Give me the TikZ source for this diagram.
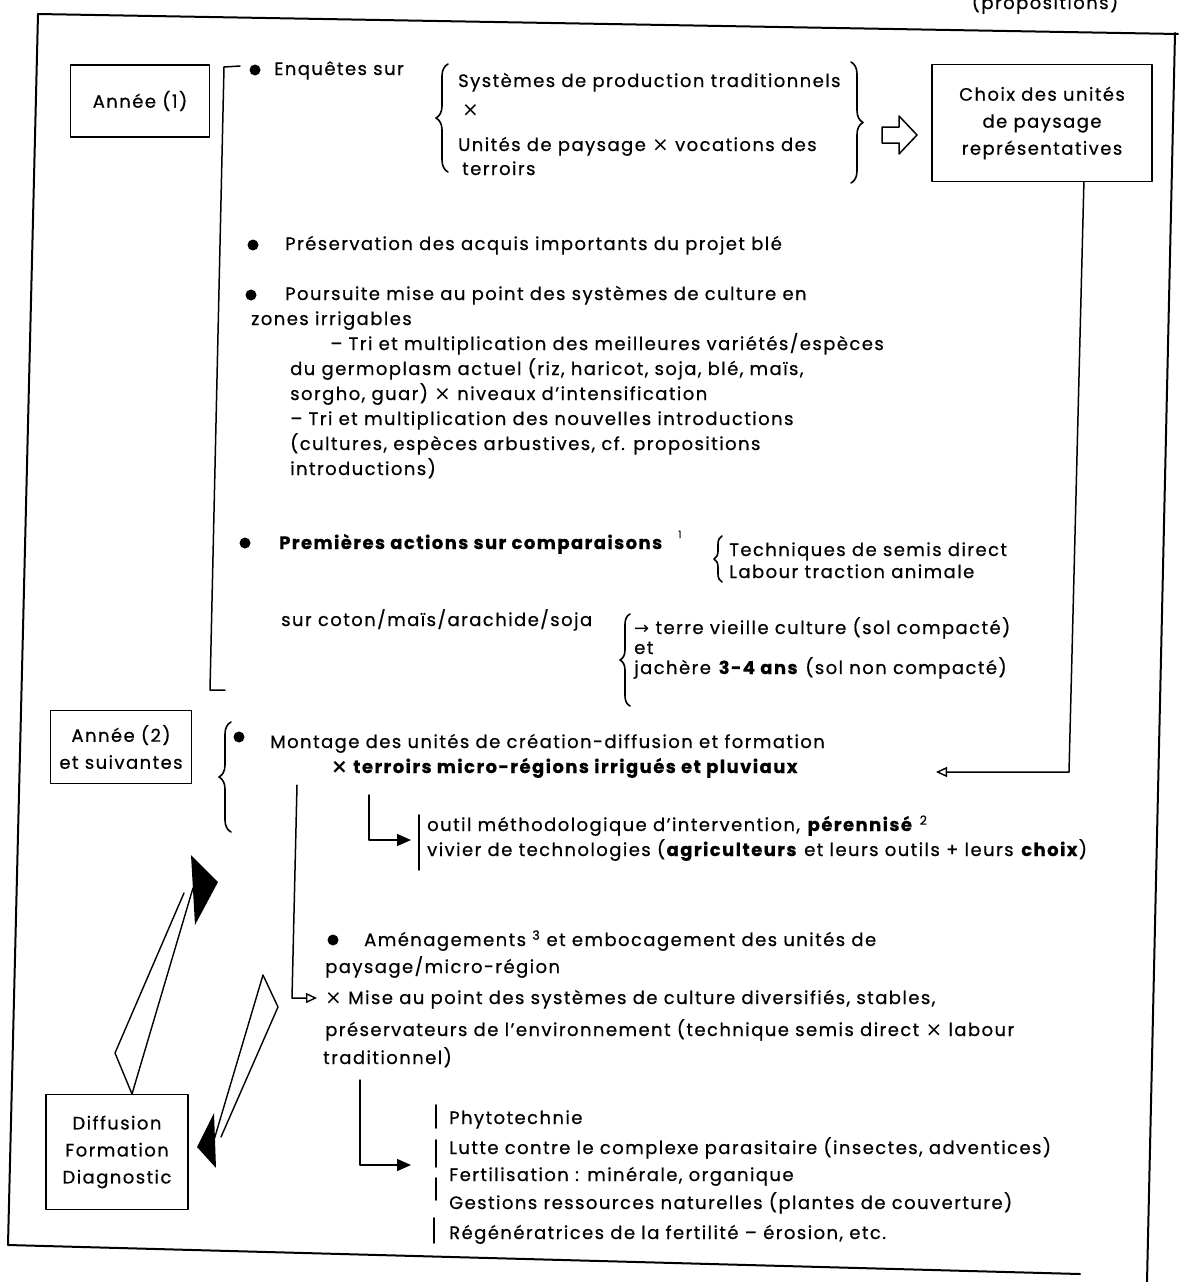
\documentclass[tikz,border=0pt]{standalone}
\usepackage{fontspec}
\setmainfont{Poppins}[LetterSpace=8,FakeBold=0.6]
\newfontfamily\arrowfont{DejaVu Sans}
\newcommand{\fois}{{\arrowfont\fontsize{20}{22}\selectfont ×}}
\usetikzlibrary{arrows.meta,decorations.pathreplacing}
\tikzset{
  frame/.style={line width=2pt},
  lin/.style={line width=1.5pt},
  box/.style={draw, line width=1.8pt, align=center, inner sep=0pt, font=\fontsize{18}{27}\selectfont},
  txt/.style={anchor=base west, inner sep=0pt, font=\fontsize{18}{22}\selectfont},
  btxt/.style={txt, font=\fontsize{18}{22}\selectfont\bfseries},
  dot/.style={circle, fill, inner sep=0pt, minimum size=11pt},
  brc/.style={decorate, decoration={brace, amplitude=#1}, line width=1.6pt},
  brc/.default=12pt,
  vbar/.style={line width=1.6pt},
  kite/.style={line width=1.4pt},
  pointe/.style={-{Triangle[length=14pt,width=12pt]}},
  pointeo/.style={-{Triangle[open,length=11pt,width=10pt,line width=1.4pt]}},
}
\begin{document}
\begin{tikzpicture}[x=1pt,y=-1pt,line cap=round,line join=round]
\useasboundingbox (0,0) rectangle (1178,1282);
\draw[frame] (38,14) -- (1178,34);
\draw[frame] (38,14) -- (8,1245) -- (1080,1274);
\draw[frame] (1175,33) -- (1147,1282);
\node[font=\fontsize{18}{22}\selectfont] (prop) at (1045,3) {(propositions)};
% annee 1
\node[box, minimum width=139pt, minimum height=72pt] (an1) at (140,101) {Année (1)};
\draw[lin] (240,66) -- (224,67) -- (210,690) -- (225,690);
\node[dot] (b1) at (255,70) {};
\node[txt] (enq) at (274,75) {Enquêtes sur};
\draw[brc=12pt] (448,172) -- (448,64);
\node[txt] (sys) at (458,87) {Systèmes de production traditionnels};
\node[txt] (x1) at (462,116) {\fois};
\node[txt] (unit) at (458,151) {Unités de paysage \fois{} vocations des};
\node[txt] (terr) at (462,175) {terroirs};
\draw[brc=12pt] (851,62) -- (851,183);
\draw[lin] (882,127) -- (899,127) -- (899,116) -- (917,135) -- (899,154) -- (899,143) -- (882,143) -- cycle;
\node[box, minimum width=220pt, minimum height=117pt] (choix) at (1042,123) {Choix des unités\\de paysage\\représentatives};
\path (choix.south east) ++(-69,0) coordinate (cs);
\coordinate (coin) at (1069,772);
\coordinate (retour) at (936,772);
\draw[lin, pointeo] (cs) -- (coin) -- (retour);
\node[dot] (b2) at (253,245) {};
\node[txt] (pres) at (285,250) {Préservation des acquis importants du projet blé};
\node[dot] (b3) at (251,295) {};
\node[txt] (pours) at (285,300) {Poursuite mise au point des systèmes de culture en};
\node[txt] (zones) at (251,325) {zones irrigables};
\node[txt] (tri1) at (330,350) {– Tri et multiplication des meilleures variétés/espèces};
\node[txt] (germo) at (290,375) {du germoplasm actuel (riz, haricot, soja, blé, maïs,};
\node[txt] (sorgho) at (290,400) {sorgho, guar) \fois{} niveaux d'intensification};
\node[txt] (tri2) at (290,425) {– Tri et multiplication des nouvelles introductions};
\node[txt] (cult) at (290,450) {(cultures, espèces arbustives, cf. propositions};
\node[txt] (intro) at (290,475) {introductions)};
\node[dot] (b4) at (245,543) {};
\node[btxt] (prem) at (279,549) {Premières actions sur comparaisons};
\node[txt, font=\fontsize{10}{12}\selectfont] (n1) at (678,538) {1};
\draw[brc=8pt] (722,582) -- (722,536);
\node[txt] (tech) at (729,556) {Techniques de semis direct};
\node[txt] (lab) at (729,578) {Labour traction animale};
\node[txt] (coton) at (281,626) {sur coton/maïs/arachide/soja};
\draw[brc=10pt] (630,706) -- (630,614);
\node[txt] (vieil) at (634,634) {{\arrowfont →} terre vieille culture (sol compacté)};
\node[txt] (et) at (634,654) {et};
\node[txt] (jach) at (634,674) {jachère \textbf{3-4 ans} (sol non compacté)};
% annee 2
\node[box, minimum width=141pt, minimum height=73pt] (an2) at (121,747) {Année (2)\\et suivantes};
\draw[brc=12pt] (231,832) -- (231,722);
\node[dot] (b5) at (239,737) {};
\node[txt] (mont) at (270,748) {Montage des unités de création-diffusion et formation};
\node[btxt] (terrb) at (331,773) {\fois{} terroirs micro-régions irrigués et pluviaux};
\coordinate (e1) at (369,795);
\coordinate (e1b) at (411,840);
\draw[lin, pointe] (e1) |- (e1b);
\draw[vbar] (419,815) -- (419,870);
\node[txt] (outil) at (427,831) {outil méthodologique d'intervention, \textbf{pérennisé} \textsuperscript{2}};
\node[txt] (vivier) at (427,856) {vivier de technologies (\textbf{agriculteurs} et leurs outils + leurs \textbf{choix})};
\node[dot] (b6) at (333,940) {};
\node[txt] (amen) at (364,946) {Aménagements \textsuperscript{3} et embocagement des unités de};
\node[txt] (pays) at (325,973) {paysage/micro-région};
\node[txt] (mise) at (325,1004) {\fois{} Mise au point des systèmes de culture diversifiés, stables,};
\node[txt] (presv) at (325,1036) {préservateurs de l'environnement (technique semis direct \fois{} labour};
\node[txt] (trad) at (323,1064) {traditionnel)};
\coordinate (v1) at (297,785);
\coordinate (v2) at (292,998);
\draw[lin, pointeo, shorten >=8pt] (v1) -- (v2) -- (v2 -| mise.west);
\coordinate (e2) at (360,1080);
\coordinate (e2b) at (411,1165);
\draw[lin, pointe] (e2) |- (e2b);
\draw[vbar] (436,1105) -- (436,1128);
\draw[vbar] (436,1140) -- (436,1167);
\draw[vbar] (436,1178) -- (436,1200);
\draw[vbar] (434,1218) -- (434,1243);
\node[txt] (phyto) at (449,1124) {Phytotechnie};
\node[txt] (lutte) at (449,1154) {Lutte contre le complexe parasitaire (insectes, adventices)};
\node[txt] (fert) at (449,1181) {Fertilisation : minérale, organique};
\node[txt] (gest) at (449,1209) {Gestions ressources naturelles (plantes de couverture)};
\node[txt] (regen) at (449,1239) {Régénératrices de la fertilité – érosion, etc.};
% diffusion
\node[box, minimum width=142pt, minimum height=115pt] (diff) at (117,1152) {Diffusion\\Formation\\Diagnostic};
\draw[kite] (184,893) -- (115,1053) -- (132,1094) -- (193,888);
\fill (191,855) -- (218,882) -- (195,925) -- cycle;
\draw[kite] (214,1140) -- (263,975) -- (278,1007) -- (221,1137);
\fill (214,1113) -- (197,1147) -- (216,1168) -- cycle;
\end{tikzpicture}
\end{document}
